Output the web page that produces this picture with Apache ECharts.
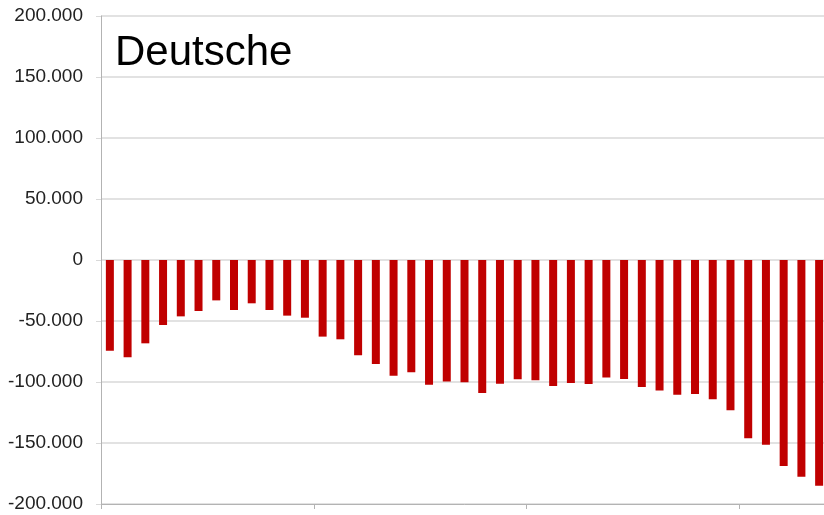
<!DOCTYPE html>
<html>
<head>
<meta charset="utf-8">
<script src="https://cdn.jsdelivr.net/npm/echarts@6/dist/echarts.min.js"></script>
<style>html,body{margin:0;padding:0;background:#fff;overflow:hidden;width:824px;height:515px;}#c{width:832px;height:515px;}</style>
</head>
<body>
<div id="c"></div>
<script>
const titleText = "Deutsche";
const categories = Array.from({length: 41}, (_, i) => String(i + 1));
const values = [
  -74300, -79800, -68300, -53300, -46200, -41800, -33100, -41000, -35500, -41000,
  -45600, -47300, -62800, -65000, -78100, -85200, -94800, -92100, -102200, -99500,
  -100300, -109000, -101400, -97800, -98600, -103300, -100800, -101600, -96400, -97500,
  -104000, -106900, -110400, -109800, -114200, -123200, -146200, -151400, -168900, -177600,
  -185000
];
const yMin = -200000, yMax = 200000, yStep = 50000;

function fmt(v) {
  const neg = v < 0;
  let s = String(Math.abs(v));
  s = s.replace(/\B(?=(\d{3})+(?!\d))/g, ".");
  return (neg ? "-" : "") + s;
}

const chart = echarts.init(document.getElementById('c'));
chart.setOption({
  animation: false,
  title: {
    text: titleText, left: 110, top: 27,
    textStyle: {fontFamily: 'Liberation Sans, Arial, sans-serif', fontSize: 42, fontWeight: 'normal', color: '#000'}
  },
  grid: {left: 101, right: 4, top: 16, bottom: 11, containLabel: false},
  xAxis: {
    type: 'category', data: categories, boundaryGap: true,
    axisLine: {onZero: false, lineStyle: {color: '#b3b3b3', width: 1}},
    axisTick: {show: true, interval: 11, length: 5, lineStyle: {color: '#b3b3b3'}},
    axisLabel: {show: false},
    splitLine: {show: false}
  },
  yAxis: {
    type: 'value', min: yMin, max: yMax, interval: yStep,
    axisLine: {show: true, lineStyle: {color: '#b3b3b3', width: 1}},
    axisTick: {show: true, length: 5, lineStyle: {color: '#d9d9d9'}},
    axisLabel: {
      margin: 18, formatter: fmt, color: '#222',
      fontFamily: 'Liberation Sans, Arial, sans-serif', fontSize: 19
    },
    splitLine: {show: true, lineStyle: {color: '#d9d9d9', width: 1.5}}
  },
  series: [{
    type: 'bar', data: values, barWidth: 8,
    itemStyle: {color: '#c00000'}
  }]
});
</script>
</body>
</html>
